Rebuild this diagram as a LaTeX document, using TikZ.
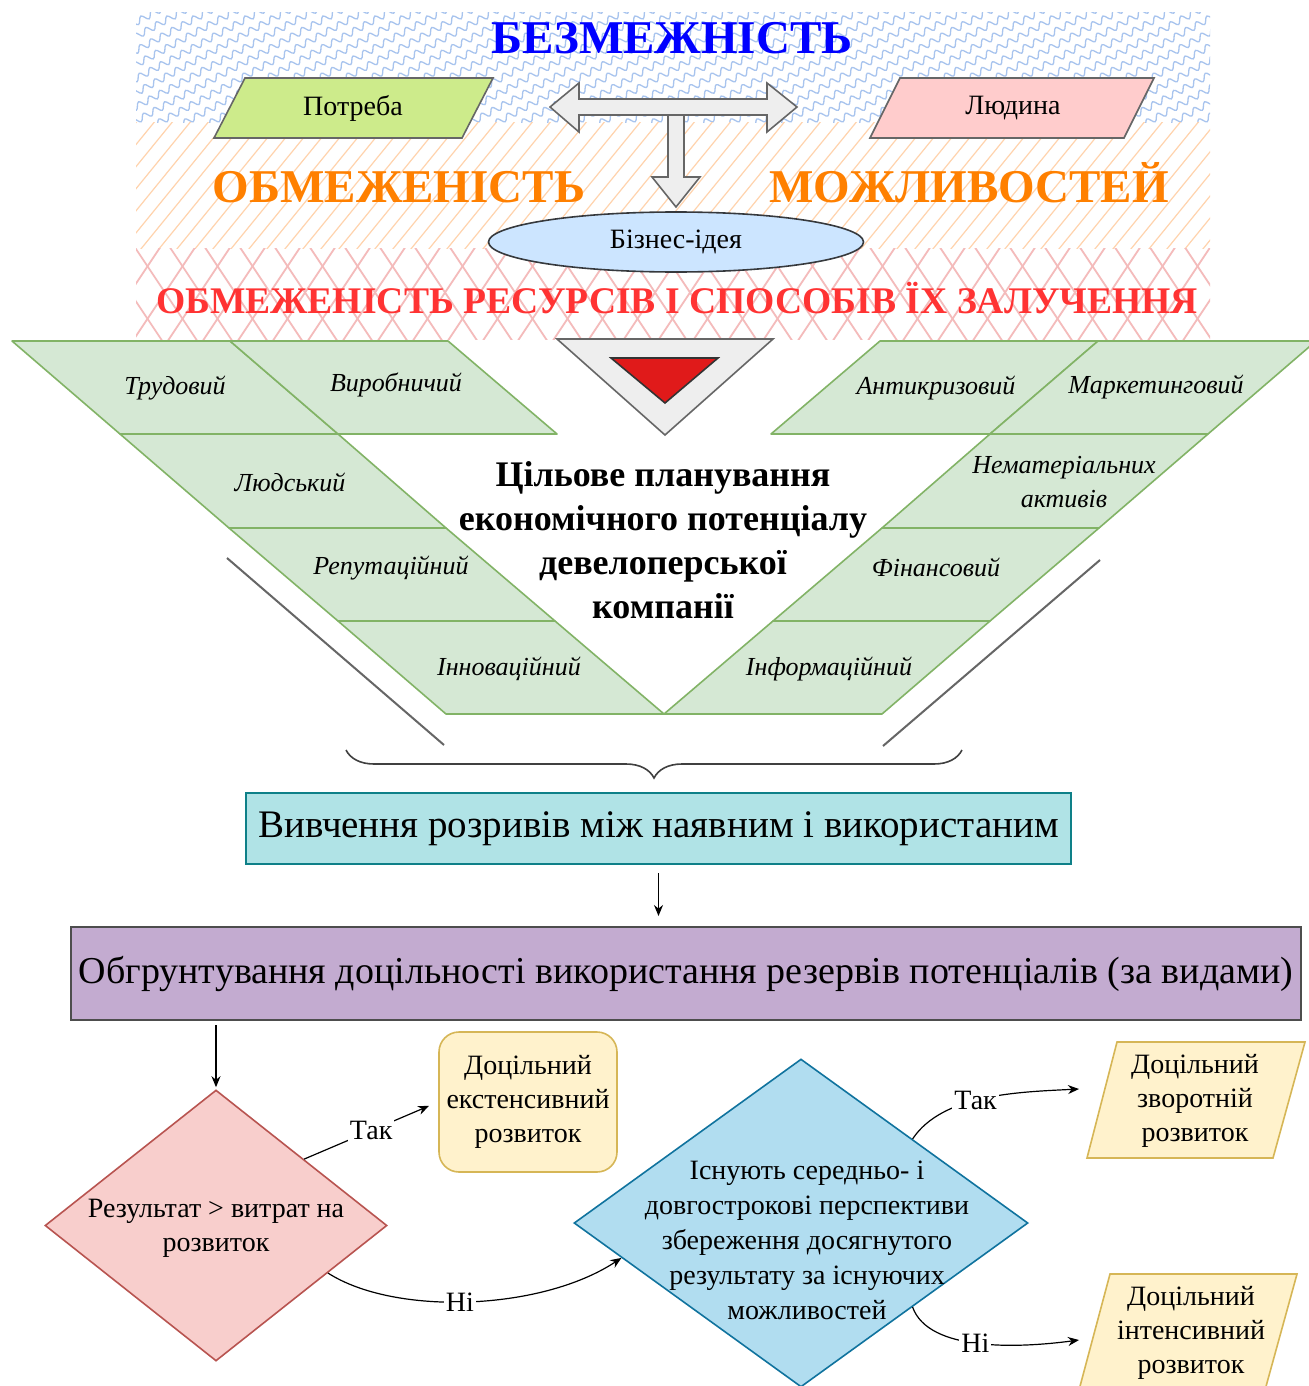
\documentclass[tikz,border=0pt]{standalone}
\usepackage{fontspec}
\setmainfont{Liberation Serif}
\usetikzlibrary{shapes.geometric,arrows.meta,decorations.pathmorphing,decorations.pathreplacing,calc}

\definecolor{needG}{HTML}{CDEB8B}
\definecolor{manP}{HTML}{FFCCCC}
\definecolor{boxGray}{HTML}{EEEEEE}
\definecolor{lineGray}{HTML}{666666}
\definecolor{ideaB}{HTML}{CCE5FF}
\definecolor{ideaD}{HTML}{36393D}
\definecolor{potG}{HTML}{D5E8D4}
\definecolor{potD}{HTML}{82B366}
\definecolor{triR}{HTML}{E01A1A}
\definecolor{studyF}{HTML}{B0E3E6}
\definecolor{studyD}{HTML}{0E8088}
\definecolor{justF}{HTML}{C3ABD0}
\definecolor{justD}{HTML}{4D4D4D}
\definecolor{decP}{HTML}{F8CECC}
\definecolor{decPD}{HTML}{B85450}
\definecolor{resY}{HTML}{FFF2CC}
\definecolor{resYD}{HTML}{D6B656}
\definecolor{decB}{HTML}{B1DDF0}
\definecolor{decBD}{HTML}{10739E}
\definecolor{waveB}{HTML}{A8C4EE}
\definecolor{hatchOc}{HTML}{FFD3AD}
\definecolor{hatchRc}{HTML}{F4BBBB}
\definecolor{titleB}{HTML}{0000FF}
\definecolor{titleO}{HTML}{FF8000}
\definecolor{titleR}{HTML}{FF3333}

\begin{document}
\begin{tikzpicture}[
  x=0.5pt, y=-0.5pt,
  wave/.style={waveB, line width=0.65pt, decorate,
    decoration={snake, amplitude=1.6pt, segment length=6pt}},
  hatchO/.style={hatchOc, line width=0.6pt},
  hatchR/.style={hatchRc, line width=0.9pt},
  banner/.style={font=\bfseries\fontsize{23.5}{26}\selectfont, inner sep=0pt, anchor=base},
  potbox/.style={fill=potG, draw=potD, line width=0.8pt, line join=round},
  potlab/.style={font=\itshape\fontsize{13}{16}\selectfont, align=center, inner sep=0pt},
  flow/.style={font=\fontsize{14}{17}\selectfont, align=center, inner sep=0pt},
  arr/.style={-{Stealth[length=5.5pt,width=4.5pt]}, line width=0.6pt, black},
  elab/.style={fill=white, font=\fontsize{14}{17}\selectfont, inner sep=1pt},
  blockarrow/.style={fill=boxGray, draw=lineGray, line width=0.8pt},
  greyline/.style={lineGray, line width=1pt}
]
\useasboundingbox (0,0) rectangle (1309,1386);
\fill[white] (0,0) rectangle (1309,1386);

% ---- background bands ----
\begin{scope}
  \clip (136,13) rectangle (1210,123);
  \foreach \k in {0,...,56} \draw[wave] ({\k*26-150},135) -- ++(240,-130);
\end{scope}
\begin{scope}
  \clip (136,123) rectangle (1210,248);
  \foreach \k in {0,...,70} \draw[hatchO] ({\k*18+10},255) -- ++(110,-135);
\end{scope}
\begin{scope}
  \clip (136,248) rectangle (1210,339);
  \foreach \k in {0,...,36} {
    \draw[hatchR] ({\k*35+60},345) -- ++(68,-102);
    \draw[hatchR] ({\k*35+60},345) -- ++(-68,-102);
  }
\end{scope}

% ---- need, human and the business idea ----
\draw[blockarrow] (668,112) -- (684,112) -- (684,177) -- (700,177) -- (676,207)
  -- (652,177) -- (668,177) -- cycle;
\draw[blockarrow] (550,107) -- (579,83) -- (579,99) -- (767,99) -- (767,83) -- (797,107)
  -- (767,132) -- (767,115) -- (579,115) -- (579,132) -- cycle;

\draw[fill=needG, draw=lineGray, line width=0.8pt] (245,78) -- (493,78) -- (462,138) -- (214,138) -- cycle;
\node[flow] (need) at (353,108) {Потреба};
\draw[fill=manP, draw=lineGray, line width=0.8pt] (900,78) -- (1154,78) -- (1124,138) -- (870,138) -- cycle;
\node[flow] (man) at (1013,108) {Людина};

\node[banner, titleB] (limitless) at (672,54) {БЕЗМЕЖНІСТЬ};
\node[banner, titleO] (limitL) at (399,202) {ОБМЕЖЕНІСТЬ};
\node[banner, titleO] (limitR) at (969,202) {МОЖЛИВОСТЕЙ};

\node[ellipse, draw=ideaD, fill=ideaB, line width=0.8pt, minimum width=187.5pt,
  minimum height=30pt, inner sep=0pt, flow] (idea) at (676,242) {Бізнес-ідея};

\node[banner, titleR, font=\bfseries\fontsize{18.8}{20}\selectfont] (resLimit) at (677,313)
  {ОБМЕЖЕНІСТЬ РЕСУРСІВ І СПОСОБІВ ЇХ ЗАЛУЧЕННЯ};

% ---- funnel of potentials ----
\draw[fill=boxGray, draw=lineGray, line width=0.8pt] (557,339) -- (773,339) -- (665,435) -- cycle;
\draw[fill=triR, draw=black!80, line width=0.8pt] (611,358) -- (718,358) -- (665,403) -- cycle;

\draw[potbox] (12,341) -- (230,341) -- (338,434) -- (120,434) -- cycle;
\draw[potbox] (230,341) -- (448,341) -- (557,434) -- (338,434) -- cycle;
\draw[potbox] (120,434) -- (338,434) -- (446,528) -- (229,528) -- cycle;
\draw[potbox] (229,528) -- (446,528) -- (555,621) -- (338,621) -- cycle;
\draw[potbox] (338,621) -- (555,621) -- (664,714) -- (446,714) -- cycle;

\draw[potbox] (1098,341) -- (880,341) -- (771,434) -- (990,434) -- cycle;
\draw[potbox] (1316,341) -- (1098,341) -- (990,434) -- (1208,434) -- cycle;
\draw[potbox] (1208,434) -- (990,434) -- (882,528) -- (1099,528) -- cycle;
\draw[potbox] (1099,528) -- (882,528) -- (773,621) -- (990,621) -- cycle;
\draw[potbox] (990,621) -- (773,621) -- (664,714) -- (882,714) -- cycle;

\node[potlab] (labour) at (175,388) {Трудовий};
\node[potlab] (prod) at (396,385) {Виробничий};
\node[potlab] (human) at (290,482) {Людський};
\node[potlab] (reput) at (391,568) {Репутаційний};
\node[potlab] (innov) at (509,669) {Інноваційний};
\node[potlab] (crisis) at (936,388) {Антикризовий};
\node[potlab] (market) at (1156,387) {Маркетинговий};
\node[potlab, font=\itshape\fontsize{13}{17}\selectfont] (intang) at (1064,482) {Нематеріальних\\активів};
\node[potlab] (fin) at (936,567) {Фінансовий};
\node[potlab] (info) at (829,669) {Інформаційний};

\node[align=center, inner sep=0pt, font=\bfseries\fontsize{18}{22}\selectfont] (goal) at (663,540)
  {Цільове планування\\економічного потенціалу\\девелоперської\\компанії};

\draw[greyline] (227,558) -- (444,745);
\draw[greyline] (1100,560) -- (883,746);
\draw[black!75, line width=0.8pt, decorate, decoration={brace, mirror, amplitude=14pt}]
  (346,750) -- (962,750);

% ---- analysis and decisions ----
\node[draw=studyD, fill=studyF, line width=1pt, minimum width=412.5pt, minimum height=35.5pt,
  inner sep=0pt, font=\fontsize{19.5}{22}\selectfont] (study) at (658.5,828.5)
  {Вивчення розривів між наявним і використаним};
\node[draw=justD, fill=justF, line width=1pt, minimum width=615pt, minimum height=46.5pt,
  inner sep=0pt, font=\fontsize{19}{22}\selectfont] (just) at (686,973.5)
  {Обгрунтування доцільності використання резервів потенціалів (за видами)};

\node[diamond, draw=decPD, fill=decP, line width=0.8pt, minimum width=171pt,
  minimum height=135.5pt, inner sep=0pt] (pd) at (216,1225.5) {};
\node[flow] (pdt) at (216,1228) {Результат > витрат на\\розвиток};

\node[draw=resYD, fill=resY, rounded corners=10pt, line width=0.8pt, minimum width=89pt,
  minimum height=70pt, flow] (ext) at (528,1102) {Доцільний\\екстенсивний\\розвиток};

\node[diamond, draw=decBD, fill=decB, line width=0.8pt, minimum width=227pt,
  minimum height=164pt, inner sep=0pt] (bd) at (801,1223) {};
\node[flow, font=\fontsize{14}{17.5}\selectfont] (bdt) at (807,1240)
  {Існують середньо- і\\довгострокові перспективи\\збереження досягнутого\\результату за існуючих\\можливостей};

\draw[fill=resY, draw=resYD, line width=0.8pt] (1117,1042) -- (1305,1042) -- (1273,1158) -- (1087,1158) -- cycle;
\node[flow] (rev) at (1195,1101) {Доцільний\\зворотній\\розвиток};
\draw[fill=resY, draw=resYD, line width=0.8pt] (1110,1274) -- (1297,1274) -- (1265,1390) -- (1079,1390) -- cycle;
\node[flow] (intens) at (1191,1333) {Доцільний\\інтенсивний\\розвиток};

\coordinate (revIn) at (1079,1089);
\coordinate (intIn) at (1079,1340);

\draw[arr, shorten <=4pt, shorten >=5pt] (study.south) -- (study.south |- just.north);
\draw[arr, shorten <=2pt, shorten >=1pt] (pd.north |- just.south) -- (pd.north);
\draw[arr, shorten >=5pt] (pd.37) -- node[elab, pos=0.5] {Так} (ext.west);
\draw[arr] (pd.-23) .. controls +(67,43) and +(-80,53) .. node[elab, pos=0.47] {Ні} (bd.191);
\draw[arr] (bd.37) .. controls +(30,-45) and +(-60,3) .. node[elab, pos=0.45] {Так} (revIn);
\draw[arr] (bd.-37) .. controls +(16,45) and +(-60,8) .. node[elab, pos=0.48] {Ні} (intIn);
\end{tikzpicture}
\end{document}
